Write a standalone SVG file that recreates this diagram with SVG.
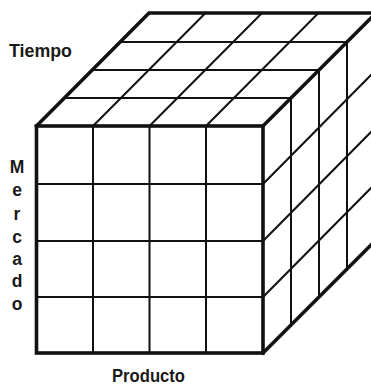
<svg xmlns="http://www.w3.org/2000/svg" width="371" height="386" viewBox="0 0 371 386">
<style>
.thin{stroke:#111;stroke-width:2;fill:none;stroke-linecap:square}
.thick{stroke:#111;stroke-width:3.6;fill:none;stroke-linejoin:miter;stroke-linecap:square}
.lbl{font-family:"Liberation Sans",Arial,sans-serif;font-weight:bold;font-size:17.5px;fill:#1a1a1a}
</style>
<rect width="371" height="386" fill="#fff"/>
<g id="top-face">
<path class="thin" d="M64.5,98 H290.8 M92.5,70 H318.6 M120.5,42 H346.7 M93,126 L205.5,13 M149.5,126 L262,13 M206,126 L318.5,13"/>
</g>
<g id="right-face">
<path class="thin" d="M291,97.8 V325 M319,69.6 V297 M347,41.4 V269 M263,184 L375,71 M263,241 L375,128 M263,297 L375,184"/>
</g>
<g id="front-face">
<path class="thin" d="M93,126 V353 M149.5,126 V353 M206,126 V353 M36.5,184 H263 M36.5,241 H263 M36.5,297 H263"/>
<rect class="thick" x="36.5" y="126" width="226.5" height="227"/>
</g>
<g id="cube-edges">
<path class="thick" d="M36.5,126 L149,13 H378 M263,126 L376,13 M263,353 L376,240"/>
</g>
<g id="labels">
<text class="lbl" x="9" y="57" textLength="63" lengthAdjust="spacingAndGlyphs">Tiempo</text>
<g text-anchor="middle">
<text class="lbl" x="17" y="173">M</text>
<text class="lbl" x="17" y="196">e</text>
<text class="lbl" x="17" y="220">r</text>
<text class="lbl" x="17" y="243">c</text>
<text class="lbl" x="17" y="265">a</text>
<text class="lbl" x="17" y="287">d</text>
<text class="lbl" x="17" y="310">o</text>
</g>
<text class="lbl" x="112" y="382" textLength="73" lengthAdjust="spacingAndGlyphs">Producto</text>
</g>
</svg>
